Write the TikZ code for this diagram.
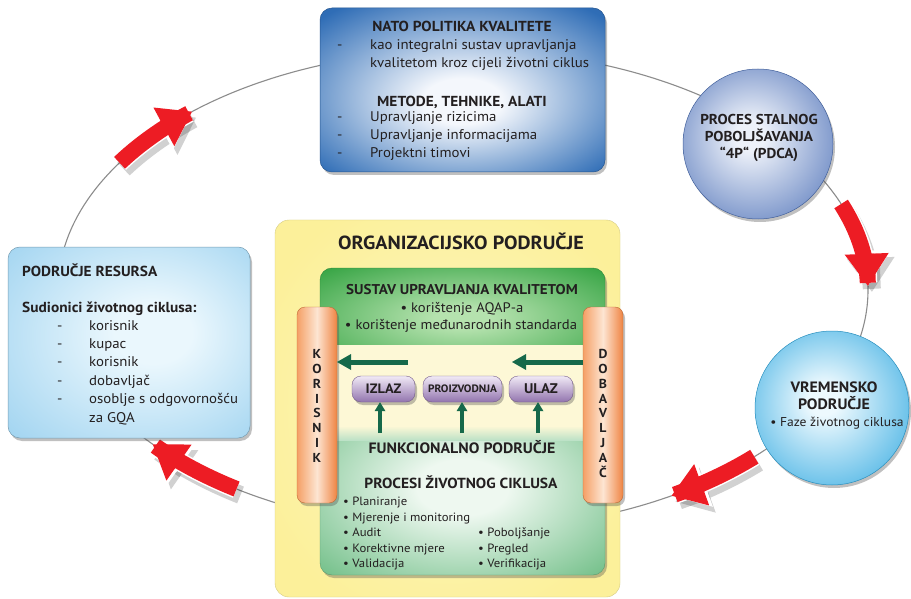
\documentclass[tikz,border=0pt]{standalone}
\usepackage{fontspec}
\setmainfont{PT Sans}[FakeStretch=1.06]
\usetikzlibrary{arrows.meta,shadows}
\definecolor{txtc}{HTML}{231F20}
\definecolor{ringc}{HTML}{8C8C8C}
\definecolor{redc}{HTML}{ED1C24}
\definecolor{nblue}{HTML}{2F6DB6}
\definecolor{nlight}{HTML}{F4F7FC}
\definecolor{c1out}{HTML}{4F72B8}
\definecolor{c1in}{HTML}{EDF1F9}
\definecolor{c2out}{HTML}{2FA8E0}
\definecolor{c2in}{HTML}{EDF9FE}
\definecolor{resout}{HTML}{9FD3F0}
\definecolor{resin}{HTML}{EAF7FD}
\definecolor{yelout}{HTML}{FCF09A}
\definecolor{yelin}{HTML}{FEFAD8}
\definecolor{g1out}{HTML}{3AA647}
\definecolor{g1in}{HTML}{B5E2AE}
\definecolor{g2out}{HTML}{74C08A}
\definecolor{g2in}{HTML}{EEF8F0}
\definecolor{creamc}{HTML}{FDF8D6}
\definecolor{orl}{HTML}{F5A066}
\definecolor{orm}{HTML}{FDE5D2}
\definecolor{orr}{HTML}{EF8443}
\definecolor{pup}{HTML}{F1EAF6}
\definecolor{pdown}{HTML}{9274AE}
\definecolor{garr}{HTML}{16694A}
\pgfdeclareradialshading{natosh}{\pgfpoint{0bp}{-4bp}}{color(0bp)=(nlight); color(7bp)=(nlight); color(34bp)=(nblue); color(50bp)=(nblue!85!black)}
\pgfdeclareradialshading{pdcash}{\pgfpoint{-3bp}{3bp}}{color(0bp)=(c1in); color(5bp)=(c1in); color(37bp)=(c1out); color(50bp)=(c1out)}
\pgfdeclareradialshading{vremsh}{\pgfpoint{-3bp}{3bp}}{color(0bp)=(c2in); color(5bp)=(c2in); color(37bp)=(c2out); color(50bp)=(c2out)}
\pgfdeclareradialshading{ressh}{\pgfpoint{6bp}{3bp}}{color(0bp)=(resin); color(8bp)=(resin); color(38bp)=(resout); color(50bp)=(resout)}
\pgfdeclareradialshading{yelsh}{\pgfpoint{0bp}{0bp}}{color(0bp)=(yelin); color(12bp)=(yelout!60!yelin); color(30bp)=(yelout); color(50bp)=(yelout)}
\pgfdeclareradialshading{g1sh}{\pgfpoint{0bp}{0bp}}{color(0bp)=(g1in); color(5bp)=(g1in); color(34bp)=(g1out); color(50bp)=(g1out)}
\pgfdeclareradialshading{g2sh}{\pgfpoint{0bp}{0bp}}{color(0bp)=(g2in); color(8bp)=(g2in); color(35bp)=(g2out); color(50bp)=(g2out)}
\tikzset{
  ringline/.style={draw=ringc, line width=1.1pt},
  bodyt/.style={text=txtc, inner sep=0pt, font=\fontsize{14}{17}\selectfont},
  boldt/.style={text=txtc, inner sep=0pt, font=\bfseries\fontsize{14.5}{17}\selectfont},
  smallt/.style={text=txtc, inner sep=0pt, font=\fontsize{12}{14}\selectfont},
  lett/.style={text=txtc, inner sep=0pt, font=\bfseries\fontsize{13}{14}\selectfont, anchor=base},
  shad/.style={drop shadow={shadow xshift=2pt, shadow yshift=-3pt, opacity=.35, fill=black!70}},
  redarr/.style={draw=redc, line width=16pt, -{Triangle[width=44pt,length=32pt,line width=0pt]}},
  redwhite/.style={draw=white, line width=19pt, -{Triangle[width=49pt,length=35pt,line width=0pt]}},
  redshad/.style={draw=black, opacity=.18, line width=18pt, -{Triangle[width=48pt,length=34pt,line width=0pt]}},
  garrow/.style={draw=garr, line width=5pt, -{Triangle[width=16pt,length=14pt,line width=0pt]}},
  uparrow/.style={draw=garr, line width=3.5pt, -{Triangle[width=11pt,length=9pt,line width=0pt]}},
  pill/.style={rounded corners=9pt, top color=pup, bottom color=pdown, draw=pdown!80!black, line width=0.4pt,
     minimum height=26pt, inner sep=0pt, text=txtc, shad},
}
\begin{document}
\begin{tikzpicture}[x=1pt,y=-1pt]
\useasboundingbox (0,0) rectangle (911,599);
\fill[white] (0,0) rectangle (911,599);
% ring
\coordinate (ringc) at (463,290);
\draw[ringline] (ringc) ellipse [x radius=405pt, y radius=240pt];

% red arrows (shadows then arrows)
\begin{scope}[shift={(4,6)}]
\draw[redshad] plot[domain=-148:-132, samples=25, smooth] ({463+405*cos(\x)},{290+240*sin(\x)});
\draw[redshad] plot[domain=-21:-1, samples=25, smooth] ({463+405*cos(\x)},{290+240*sin(\x)});
\draw[redshad] plot[domain=44:59, samples=25, smooth] ({463+405*cos(\x)},{290+240*sin(\x)});
\draw[redshad] plot[domain=124:140, samples=25, smooth] ({463+405*cos(\x)},{290+240*sin(\x)});
\end{scope}
\draw[redwhite] plot[domain=-148:-132, samples=25, smooth] ({463+405*cos(\x)},{290+240*sin(\x)});
\draw[redarr] plot[domain=-148:-132, samples=25, smooth] ({463+405*cos(\x)},{290+240*sin(\x)});
\draw[redwhite] plot[domain=-21:-1, samples=25, smooth] ({463+405*cos(\x)},{290+240*sin(\x)});
\draw[redarr] plot[domain=-21:-1, samples=25, smooth] ({463+405*cos(\x)},{290+240*sin(\x)});
\draw[redwhite] plot[domain=44:59, samples=25, smooth] ({463+405*cos(\x)},{290+240*sin(\x)});
\draw[redarr] plot[domain=44:59, samples=25, smooth] ({463+405*cos(\x)},{290+240*sin(\x)});
\draw[redwhite] plot[domain=124:140, samples=25, smooth] ({463+405*cos(\x)},{290+240*sin(\x)});
\draw[redarr] plot[domain=124:140, samples=25, smooth] ({463+405*cos(\x)},{290+240*sin(\x)});

% NATO box
\node[rounded corners=12pt, shading=natosh, draw=nblue!80!black, line width=0.5pt,
  minimum width=285pt, minimum height=164pt, shad] (nato) at (462.5,90) {};
\node[boldt, anchor=base] (natot) at (462,32) {NATO POLITIKA KVALITETE};
\node[bodyt, anchor=base west] (nd1) at (337,50) {-};
\node[bodyt, anchor=base west] (nl1) at (370,50) {kao integralni sustav upravljanja};
\node[bodyt, anchor=base west] (nl2) at (370,68) {kvalitetom kroz cijeli životni ciklus};
\node[boldt, anchor=base] (metode) at (462,107) {METODE, TEHNIKE, ALATI};
\node[bodyt, anchor=base west] (nd2) at (337,122) {-};
\node[bodyt, anchor=base west] (nl3) at (370,122) {Upravljanje rizicima};
\node[bodyt, anchor=base west] (nd3) at (337,140) {-};
\node[bodyt, anchor=base west] (nl4) at (370,140) {Upravljanje informacijama};
\node[bodyt, anchor=base west] (nd4) at (337,158) {-};
\node[bodyt, anchor=base west] (nl5) at (370,158) {Projektni timovi};

% PDCA circle
\node[circle, minimum size=150pt, shading=pdcash, draw=c1out!85!black, line width=0.5pt, shad] (pdca) at (758,144) {};
\node[boldt, font=\bfseries\fontsize{14.3}{17}\selectfont, align=center, anchor=base] (pdcat) at (759,159) {PROCES STALNOG\\POBOLJŠAVANJA\\“4P“ (PDCA)};

% time circle
\node[circle, minimum size=154pt, shading=vremsh, draw=c2out!85!black, line width=0.5pt, shad] (vrem) at (832,408) {};
\node[boldt, font=\bfseries\fontsize{15}{17}\selectfont, align=center, anchor=base] (vremt) at (834,409) {VREMENSKO\\PODRUČJE};
\node[bodyt, font=\fontsize{12.8}{14}\selectfont, anchor=base] (faze) at (837,426) {• Faze životnog ciklusa};

% resource box
\node[rounded corners=12pt, shading=ressh, draw=resout!75!black, line width=0.5pt,
  minimum width=242pt, minimum height=191pt, shad] (res) at (129,342.5) {};
\node[boldt, anchor=base west] (rest) at (22,276) {PODRUČJE RESURSA};
\node[boldt, anchor=base west] (sud) at (22,312) {Sudionici životnog ciklusa:};
\foreach \t/\yy [count=\i] in {korisnik/330,kupac/348,korisnik/366,dobavljač/385,osoblje s odgovornošću/403}{
  \node[bodyt, anchor=base west] (rd\i) at (57,\yy) {-};
  \node[bodyt, anchor=base west] (rl\i) at (89,\yy) {\t};
}
\node[bodyt, anchor=base west] (rl6) at (89,422) {za GQA};

% organisational box
\node[rounded corners=14pt, shading=yelsh, draw=yelout!85!black, line width=0.4pt,
  minimum width=345pt, minimum height=377pt] (org) at (447.5,408.5) {};
\node[boldt, font=\bfseries\fontsize{19}{20}\selectfont, anchor=base] (orgt) at (461,249) {ORGANIZACIJSKO PODRUČJE};

% functional (bottom green)
\node[rounded corners=12pt, shading=g2sh, draw=g2out!80!black, line width=0.4pt,
  minimum width=285pt, minimum height=175pt, shad] (funk) at (462.5,487.5) {};
% quality system (top green)
\node[rounded corners=12pt, shading=g1sh, draw=g1out!80!black, line width=0.4pt,
  minimum width=285pt, minimum height=100pt, shad] (sust) at (462.5,318) {};
% middle cream band
\node[fill=creamc, minimum width=284pt, minimum height=88pt, inner sep=0pt] (mid) at (462.5,389) {};
\shade[top color=creamc, bottom color=g2in!60!g2out] (320.5,426) rectangle (604.5,440);

\node[boldt, font=\bfseries\fontsize{14.2}{17}\selectfont, anchor=base] (sustt) at (462,294) {SUSTAV UPRAVLJANJA KVALITETOM};
\node[bodyt, font=\fontsize{13.8}{17}\selectfont, anchor=base] (aqap) at (462,312) {• korištenje AQAP-a};
\node[bodyt, font=\fontsize{13.8}{17}\selectfont, anchor=base] (medj) at (461,329) {• korištenje međunarodnih standarda};

\node[boldt, font=\bfseries\fontsize{15}{17}\selectfont, anchor=base] (funkt) at (462,453) {FUNKCIONALNO PODRUČJE};
\node[boldt, font=\bfseries\fontsize{14.6}{17}\selectfont, anchor=base] (proc) at (461,488) {PROCESI ŽIVOTNOG CIKLUSA};
\foreach \t/\yy [count=\i] in {Planiranje/505,Mjerenje i monitoring/521,Audit/536,Korektivne mjere/552,Validacija/567}{
  \node[smallt, anchor=base west] (pl\i) at (343,\yy) {• \t};
}
\foreach \t/\yy [count=\i] in {Poboljšanje/536,Pregled/552,Verifikacija/567}{
  \node[smallt, anchor=base west] (pr\i) at (478,\yy) {• \t};
}

% side bars
\node[rounded corners=8pt, left color=orl, right color=orr, middle color=orm, draw=orr!80!black, line width=0.4pt,
  minimum width=40pt, minimum height=196pt, shad] (kor) at (317,405) {};
\node[rounded corners=8pt, left color=orl, right color=orr, middle color=orm, draw=orr!80!black, line width=0.4pt,
  minimum width=40pt, minimum height=196pt, shad] (dob) at (603,405) {};
\foreach \l [count=\i] in {K,O,R,I,S,N,I,K}{
  \node[lett] (korl\i) at (317,{358.5+14.85*(\i-1)}) {\l};
}
\foreach \l [count=\i] in {D,O,B,A,V,L,J,A,Č}{
  \node[lett] (dobl\i) at (603,{358.5+14.85*(\i-1)}) {\l};
}

% pills
\node[pill, minimum width=63pt, font=\bfseries\fontsize{13.6}{14}\selectfont] (izlaz) at (383.5,389) {IZLAZ};
\node[pill, minimum width=79pt, font=\bfseries\fontsize{10.7}{14}\selectfont] (proiz) at (462.5,389) {PROIZVODNJA};
\node[pill, minimum width=64pt, font=\bfseries\fontsize{14}{14}\selectfont] (ulaz) at (541,389) {ULAZ};

% green arrows
\coordinate (la0) at (408,362); \coordinate (la1) at (337,362);
\coordinate (ra0) at (583,362); \coordinate (ra1) at (512,362);
\draw[garrow] (la0) -- (la1);
\draw[garrow] (ra0) -- (ra1);
\coordinate (u1) at (380,433); \coordinate (u2) at (462,433); \coordinate (u3) at (538,433);
\draw[uparrow] (u1) -- (izlaz.south -| u1);
\draw[uparrow] (u2) -- (proiz.south -| u2);
\draw[uparrow] (u3) -- (ulaz.south -| u3);
\end{tikzpicture}
\end{document}
